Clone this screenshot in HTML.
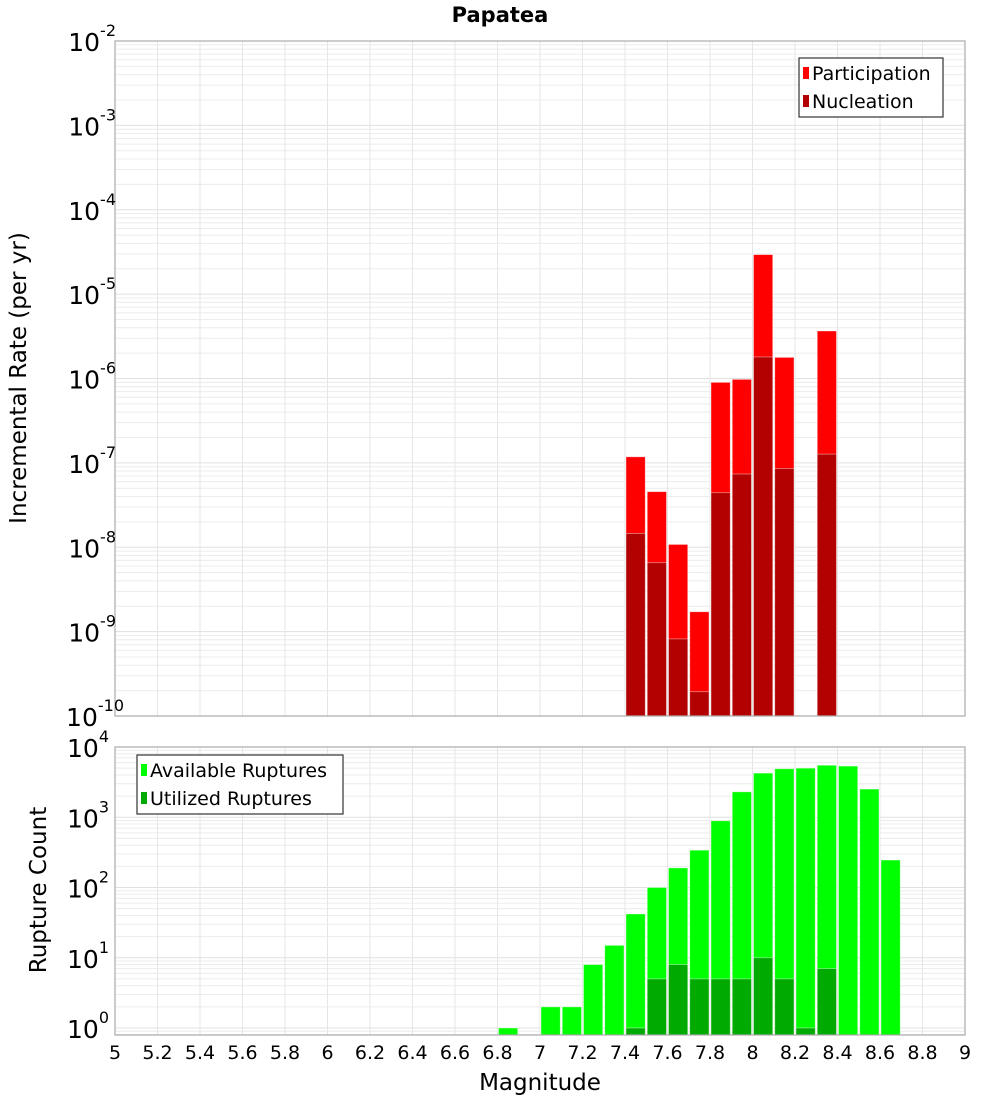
<!DOCTYPE html>
<html><head><meta charset="utf-8"><style>
html,body{margin:0;padding:0;background:#fff;}
svg{display:block;font-family:"DejaVu Sans","Liberation Sans",sans-serif;}
</style></head><body>
<svg id="chart" width="1000" height="1100" viewBox="0 0 1000 1100" xmlns="http://www.w3.org/2000/svg">
<text x="500" y="22" text-anchor="middle" font-weight="bold" font-size="21" font-family="DejaVu Sans, sans-serif">Papatea</text>
<text transform="translate(26,378) rotate(-90)" text-anchor="middle" font-size="23" font-family="DejaVu Sans, sans-serif">Incremental Rate (per yr)</text>
<text transform="translate(46,890) rotate(-90)" text-anchor="middle" font-size="23" font-family="DejaVu Sans, sans-serif">Rupture Count</text>
<text x="540" y="1090" text-anchor="middle" font-size="23" font-family="DejaVu Sans, sans-serif">Magnitude</text>
<g id="g"></g>
</svg>
<script>
const bins = [6.8,7.0,7.1,7.2,7.3,7.4,7.5,7.6,7.7,7.8,7.9,8.0,8.1,8.2,8.3,8.4,8.5,8.6];
const availableCounts = [1,2,2,8,15,42,100,190,340,890,2300,4250,4900,5000,5500,5350,2520,246];
const utilBins = [7.4,7.5,7.6,7.7,7.8,7.9,8.0,8.1,8.2,8.3];
const utilizedCounts = [1,5,8,5,5,5,10,5,1,7];
const rateBins = [7.4,7.5,7.6,7.7,7.8,7.9,8.0,8.1,8.3];
const participationRates = [1.18e-7,4.56e-8,1.08e-8,1.72e-9,9.0e-7,9.77e-7,2.94e-5,1.78e-6,3.66e-6];
const nucleationRates = [1.46e-8,6.56e-9,8.2e-10,1.94e-10,4.43e-8,7.38e-8,1.80e-6,8.6e-8,1.27e-7];
const xTicks = [5,5.2,5.4,5.6,5.8,6,6.2,6.4,6.6,6.8,7,7.2,7.4,7.6,7.8,8,8.2,8.4,8.6,8.8,9];
const topExps = [-10,-9,-8,-7,-6,-5,-4,-3,-2];
const botExps = [0,1,2,3,4];

const NS='http://www.w3.org/2000/svg';
const G=document.getElementById('g');
function mk(tag,attrs,parent){const e=document.createElementNS(NS,tag);for(const k in attrs)e.setAttribute(k,attrs[k]);(parent||G).appendChild(e);return e;}
const XL=115,XR=965;
const x=m=>XL+(m-5)/4*(XR-XL);
const T={top:41,bot:716,lmin:-10,lmax:-2};
const B={top:747,bot:1035};
const y0=1028,perDec=(y0-747)/4;
const yT=v=>T.bot-(Math.log10(v)-T.lmin)/(T.lmax-T.lmin)*(T.bot-T.top);
const yB=v=>y0-Math.log10(v)*perDec;

function grid(P,yf,decs){
  for(const d of decs){for(let k=1;k<10;k++){const v=k*Math.pow(10,d);const yy=yf(v);if(yy<P.top-0.1||yy>P.bot+0.1)continue;
    const l=mk('line',{x1:XL,x2:XR,y1:yy,y2:yy,stroke:k==1?'#e0e0e0':'#ececec','stroke-width':1});
    
    }}
  for(const t of xTicks){const l=mk('line',{x1:x(t),x2:x(t),y1:P.top,y2:P.bot,stroke:'#e6e6e6','stroke-width':1});
    
    }
}
grid(T,yT,[-10,-9,-8,-7,-6,-5,-4,-3,-2]);
grid(B,yB,[-1,0,1,2,3,4]);

const bw=212.5*0.1;
function bar(m,v,base,yf,fill,name){const x1=x(m)+1,h=base-yf(v);
  const r=mk('rect',{x:x1,y:yf(v),width:bw-2,height:Math.max(0,h),fill:fill,stroke:'#ffffff','stroke-opacity':0.5,'stroke-width':0.8});
  
  }
rateBins.forEach((m,i)=>bar(m,participationRates[i],T.bot,yT,'#ff0000','participation-bar'));
rateBins.forEach((m,i)=>bar(m,nucleationRates[i],T.bot,yT,'#b30000','nucleation-bar'));
bins.forEach((m,i)=>bar(m,availableCounts[i],B.bot,yB,'#00ff00','available-bar'));
utilBins.forEach((m,i)=>bar(m,utilizedCounts[i],B.bot,yB,'#00aa00','utilized-bar'));

for(const P of [T,B]){const f=mk('rect',{x:XL,y:P.top,width:XR-XL,height:P.bot-P.top,fill:'none',stroke:'#aaaaaa','stroke-width':1.2});
  
  }

function ylab(yy,e){const t=mk('text',{x:104,y:yy+10,'text-anchor':'end','font-size':25,fill:'#000'});
  
  
  const a=mk('tspan',{},t);a.textContent='10';const s=mk('tspan',{dy:-15,'font-size':16},t);s.textContent=String(e);
  const tw=String(e).length*(String(e).startsWith('-')?8:9);t.setAttribute('x',100+tw);
}
topExps.forEach(e=>ylab(yT(Math.pow(10,e)),e));
botExps.forEach(e=>ylab(yB(Math.pow(10,e)),e));
xTicks.forEach(t=>{const l=mk('text',{x:x(t),y:1059,'text-anchor':'middle','font-size':19});
  
  
  l.textContent=String(t);});

function legend(x0,y0,w,items,name){const g=mk('g',{});
  
  
  mk('rect',{x:x0,y:y0,width:w,height:59,fill:'#fff',stroke:'#333','stroke-width':1.2},g);
  items.forEach((it,i)=>{const yy=y0+15+i*28;
    mk('rect',{x:x0+4,y:yy-6,width:6,height:12,fill:it[1]},g);
    const t=mk('text',{x:x0+13,y:yy+7,'font-size':19,'font-family':'DejaVu Sans, sans-serif'},g);t.textContent=it[0];
    
    });}
legend(799,58,144,[['Participation','#ff0000'],['Nucleation','#b30000']],'top-legend');
legend(137,755,206,[['Available Ruptures','#00ff00'],['Utilized Ruptures','#00aa00']],'bottom-legend');
</script>
</body></html>
